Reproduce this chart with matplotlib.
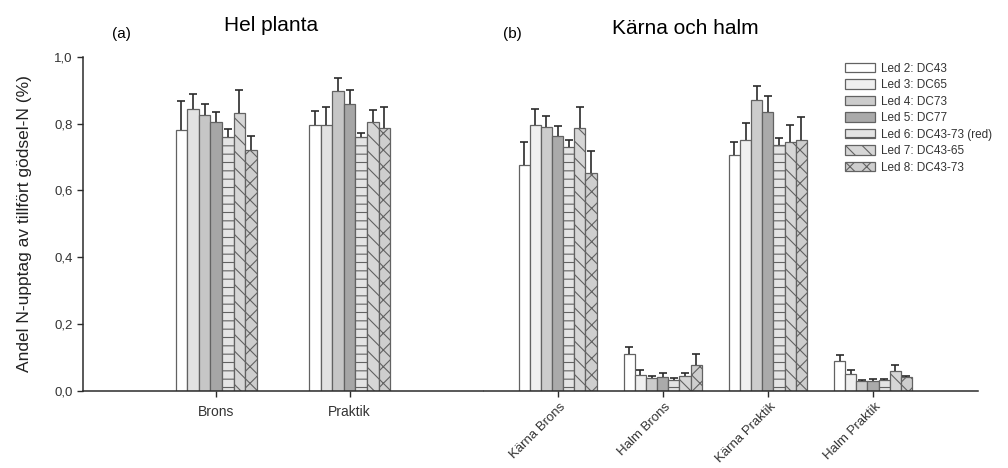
import matplotlib as mpl
mpl.use("Agg")
import matplotlib.pyplot as plt
import matplotlib.transforms as mtransforms
import numpy as np

plt.rcParams["font.family"] = ["Liberation Sans", "DejaVu Sans"]
plt.rcParams["hatch.linewidth"] = 0.8

# Treatments (legend entries)
treatments = ["Led 2: DC43", "Led 3: DC65", "Led 4: DC73", "Led 5: DC77",
              "Led 6: DC43-73 (red)", "Led 7: DC43-65", "Led 8: DC43-73"]

# (a) Hel planta
groups_a = ["Brons", "Praktik"]
values_a = [
    [0.782, 0.795],
    [0.842, 0.795],
    [0.824, 0.897],
    [0.804, 0.858],
    [0.760, 0.760],
    [0.832, 0.804],
    [0.722, 0.788],
]
errors_a = [
    [0.085, 0.042],
    [0.045, 0.053],
    [0.033, 0.040],
    [0.029, 0.042],
    [0.023, 0.013],
    [0.068, 0.037],
    [0.042, 0.061],
]

# (b) Kärna och halm
groups_b = ["Kärna Brons", "Halm Brons", "Kärna Praktik", "Halm Praktik"]
values_b = [
    [0.676, 0.111, 0.706, 0.091],
    [0.796, 0.047, 0.751, 0.052],
    [0.791, 0.039, 0.870, 0.030],
    [0.763, 0.041, 0.835, 0.029],
    [0.731, 0.033, 0.737, 0.032],
    [0.788, 0.044, 0.746, 0.060],
    [0.651, 0.078, 0.752, 0.042],
]
errors_b = [
    [0.070, 0.021, 0.040, 0.017],
    [0.047, 0.016, 0.050, 0.010],
    [0.031, 0.006, 0.041, 0.004],
    [0.029, 0.014, 0.046, 0.007],
    [0.019, 0.006, 0.019, 0.004],
    [0.060, 0.011, 0.050, 0.019],
    [0.066, 0.032, 0.066, 0.002],
]

# bar styling per treatment
fills_a = ["#ffffff", "#e2e2e2", "#c6c6c6", "#a6a6a6", "#e4e4e4", "#d6d6d6", "#cecece"]
fills_b = ["#ffffff", "#efefef", "#cccccc", "#aaaaaa", "#e4e4e4", "#d6d6d6", "#cecece"]
hatches = [None, None, None, None, "--", "\\\\", "xx"]
EDGE = "#626262"
AXC = "#2b2b2b"
TXT = "#333333"


def draw_panel(ax, groups, values, errors, fills, width):
    x = np.arange(1, len(groups) + 1)
    n = len(values)
    handles = []
    for i in range(n):
        xi = x + (i - (n - 1) / 2.0) * width
        b = ax.bar(xi, values[i], width, color=fills[i], edgecolor=EDGE,
                   linewidth=0.9, hatch=hatches[i], label=treatments[i], zorder=2)
        handles.append(b)
        eb = ax.errorbar(xi, values[i], yerr=[np.zeros(len(groups)), errors[i]],
                         fmt="none", ecolor=AXC, elinewidth=1.2, capsize=3.2,
                         capthick=1.2, zorder=3)
        # hide the lower caps, only upper error is drawn
        eb[1][0].set_visible(False)
    ax.set_xticks(x)
    ax.set_ylim(0, 1.0)
    for s in ("top", "right"):
        ax.spines[s].set_visible(False)
    ax.spines["bottom"].set_color(AXC)
    ax.spines["bottom"].set_linewidth(1.1)
    ax.tick_params(axis="x", direction="out", length=4, width=1.0, color=AXC,
                   labelsize=10, labelcolor=TXT, pad=6)
    return handles


fig = plt.figure(figsize=(10.08, 4.68), dpi=100)
ax_a = fig.add_axes([0.0823, 0.1645, 0.3968, 0.7145])
ax_b = fig.add_axes([0.4802, 0.1645, 0.4901, 0.7145])

draw_panel(ax_a, groups_a, values_a, errors_a, fills_a, 0.087)
ax_a.set_xlim(0, 3)
ax_a.set_xticklabels(groups_a)
ax_a.set_yticks(np.arange(0, 1.01, 0.2))
ax_a.set_yticklabels(["0,0", "0,2", "0,4", "0,6", "0,8", "1,0"])
ax_a.spines["left"].set_color(AXC)
ax_a.spines["left"].set_linewidth(1.1)
ax_a.tick_params(axis="y", direction="out", length=4.5, width=1.0, color=AXC,
                 labelsize=9.5, labelcolor=TXT, pad=3)
ax_a.set_ylabel("Andel N-upptag av tillfört gödsel-N (%)", fontsize=12.5, color="#222222")
ax_a.yaxis.set_label_coords(-0.128, 0.5)

handles = draw_panel(ax_b, groups_b, values_b, errors_b, fills_b, 0.106)
ax_b.set_xlim(0.3, 5.0)
ax_b.set_xticklabels(groups_b, rotation=45, ha="right", va="center",
                     rotation_mode="anchor", fontsize=9.5)
# labels sit a little right of their tick, as in the original
shift = mtransforms.ScaledTranslation(0.06, 0, fig.dpi_scale_trans)
for lbl in ax_b.get_xticklabels():
    lbl.set_transform(lbl.get_transform() + shift)
ax_b.spines["left"].set_visible(False)
ax_b.set_yticks([])

ax_b.legend(handles=handles, loc="upper left", bbox_to_anchor=(0.838, 0.866),
            bbox_transform=fig.transFigure, frameon=False, fontsize=8.5,
            labelcolor=TXT, handlelength=2.6, handleheight=0.85, handletextpad=0.5,
            labelspacing=0.38, borderpad=0, borderaxespad=0)

fig.text(0.120, 0.927, "(a)", fontsize=11, ha="center", va="center")
fig.text(0.269, 0.946, "Hel planta", fontsize=15, ha="center", va="center")
fig.text(0.508, 0.927, "(b)", fontsize=11, ha="center", va="center")
fig.text(0.680, 0.940, "Kärna och halm", fontsize=15, ha="center", va="center")

fig.savefig("out.png", dpi=100)
plt.close(fig)
